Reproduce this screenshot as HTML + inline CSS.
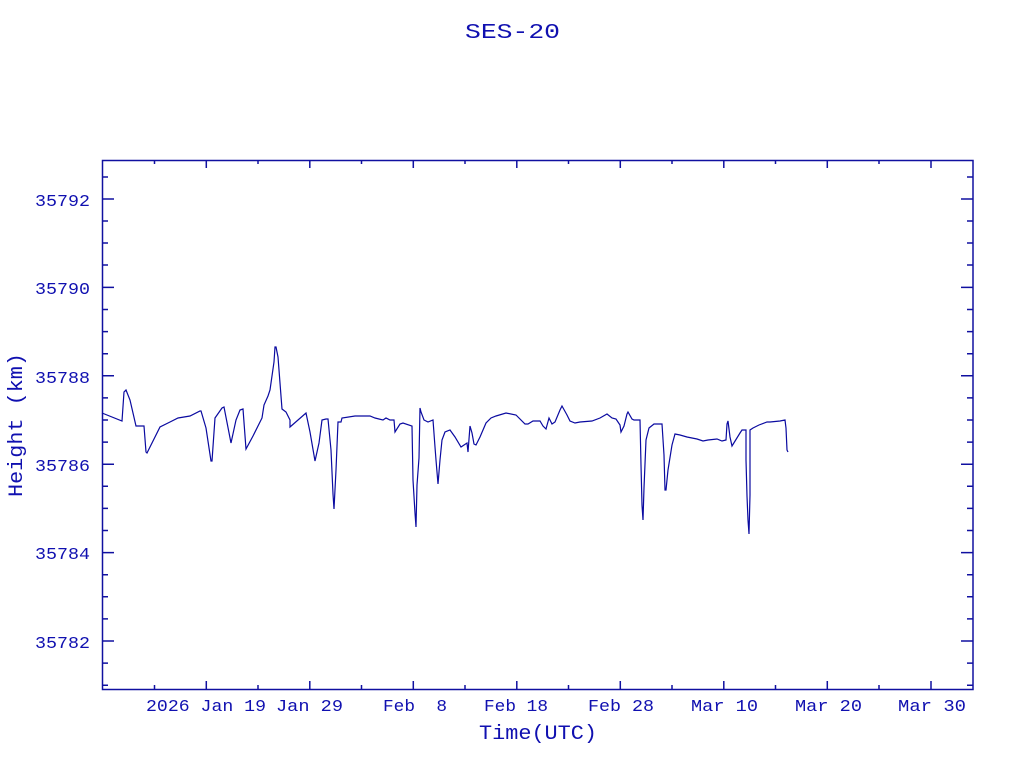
<!DOCTYPE html>
<html><head><style>
html,body{margin:0;padding:0;background:#fff;}
svg{display:block;}
text{font-family:"Liberation Mono",monospace;fill:#1010b0;}
</style></head><body>
<svg width="1024" height="768" xmlns="http://www.w3.org/2000/svg">
<text x="465" y="38" font-size="21" textLength="95" lengthAdjust="spacingAndGlyphs">SES-20</text>
<rect x="102.5" y="160.5" width="870.5" height="529" fill="none" stroke="#1010a0" stroke-width="1.5"/>
<g stroke="#1010a0" stroke-width="1.5">
<path d="M102 177h6M102 199h12M102 221h6M102 243h6M102 265h6M102 287.4h12M102 309.5h6M102 331.6h6M102 353.7h6M102 375.8h12M102 397.9h6M102 420h6M102 442.1h6M102 464.2h12M102 486.3h6M102 508.4h6M102 530.5h6M102 552.6h12M102 574.7h6M102 596.8h6M102 618.9h6M102 641h12M102 663.1h6M102 685.2h6"/>
<path d="M973 177h-6M973 199h-12M973 221h-6M973 243h-6M973 265h-6M973 287.4h-12M973 309.5h-6M973 331.6h-6M973 353.7h-6M973 375.8h-12M973 397.9h-6M973 420h-6M973 442.1h-6M973 464.2h-12M973 486.3h-6M973 508.4h-6M973 530.5h-6M973 552.6h-12M973 574.7h-6M973 596.8h-6M973 618.9h-6M973 641h-12M973 663.1h-6M973 685.2h-6"/>
<path d="M154.5 689v-4M206.3 689v-8M258 689v-4M309.8 689v-8M361.5 689v-4M413.3 689v-8M465 689v-4M516.8 689v-8M568.5 689v-4M620.3 689v-8M672 689v-4M723.8 689v-8M775.5 689v-4M827.3 689v-8M879 689v-4M931 689v-8"/>
<path d="M154.5 160v4M206.3 160v8M258 160v4M309.8 160v8M361.5 160v4M413.3 160v8M465 160v4M516.8 160v8M568.5 160v4M620.3 160v8M672 160v4M723.8 160v8M775.5 160v4M827.3 160v8M879 160v4M931 160v8"/>
</g>
<g font-size="17" lengthAdjust="spacingAndGlyphs">
<text x="35" y="206" textLength="55" lengthAdjust="spacingAndGlyphs">35792</text>
<text x="35" y="294" textLength="55" lengthAdjust="spacingAndGlyphs">35790</text>
<text x="35" y="383" textLength="55" lengthAdjust="spacingAndGlyphs">35788</text>
<text x="35" y="471" textLength="55" lengthAdjust="spacingAndGlyphs">35786</text>
<text x="35" y="559" textLength="55" lengthAdjust="spacingAndGlyphs">35784</text>
<text x="35" y="648" textLength="55" lengthAdjust="spacingAndGlyphs">35782</text>
</g>
<g font-size="17">
<text x="146" y="711" textLength="120" lengthAdjust="spacingAndGlyphs">2026 Jan 19</text>
<text x="276" y="711" textLength="67" lengthAdjust="spacingAndGlyphs">Jan 29</text>
<text x="383" y="711" textLength="64" lengthAdjust="spacingAndGlyphs" xml:space="preserve">Feb&#160;&#160;8</text>
<text x="484" y="711" textLength="64" lengthAdjust="spacingAndGlyphs">Feb 18</text>
<text x="588" y="711" textLength="66" lengthAdjust="spacingAndGlyphs">Feb 28</text>
<text x="691" y="711" textLength="67" lengthAdjust="spacingAndGlyphs">Mar 10</text>
<text x="795" y="711" textLength="67" lengthAdjust="spacingAndGlyphs">Mar 20</text>
<text x="898" y="711" textLength="68" lengthAdjust="spacingAndGlyphs">Mar 30</text>
</g>
<text x="479" y="739" font-size="20" textLength="118" lengthAdjust="spacingAndGlyphs">Time(UTC)</text>
<text transform="translate(22,497) rotate(-90)" font-size="20" textLength="144" lengthAdjust="spacingAndGlyphs">Height (km)</text>
<polyline fill="none" stroke="#0a0aa0" stroke-width="1.2" points="102,413 122,421 124,392 126,390 130,400 136,426 144,426 146,452 147,453 160,427 170,422 178,418 190,416 200,411 201,411 206,428 211,461 212,461 215,418 222,408 224,407 231,443 236,420 240,410 243,409 246,449 253,436 262,418 264,405 268,396 270,390 274,362 275,347 276,347 278,357 282,409 286,412 290,420 290,427 306,413 310,432 315,461 319,443 322,420 326,419 328,419 331,450 333,494 334,509 336,470 338,422 341,422 342,418 355,416 370,416 375,418 383,420 386,418 390,420 394,420 395,432 400,424 403,423 412,426 413,480 415,513 416,527 417,485 419,458 420,408 421,412 424,420 428,422 433,420 435,447 436,460 438,484 440,460 442,440 445,432 450,430 455,437 461,447 467,443 468,452 470,426 472,433 474,444 476,445 480,437 486,423 491,418 496,416 506,413 516,415 525,424 528,424 533,421 540,421 543,426 546,429 549,418 552,424 555,422 560,410 562,406 567,415 570,421 575,423 580,422 592,421 600,418 607,414 612,418 616,419 620,425 621,432 624,426 627,414 628,412 632,419 634,420 640,420 641,465 642,505 643,520 644,488 646,440 649,428 654,424 662,424 664,455 665,490 666,490 668,470 672,445 675,434 680,435 687,437 697,439 703,441 708,440 717,439 722,441 726,440 727,424 728,421 730,437 732,446 740,433 742,430 746,430 746,460 747,496 748,520 749,534 750,495 750,430 753,428 759,425 767,422 770,422 780,421 785,420 786,428 787,450 788,452"/>
</svg>
</body></html>
